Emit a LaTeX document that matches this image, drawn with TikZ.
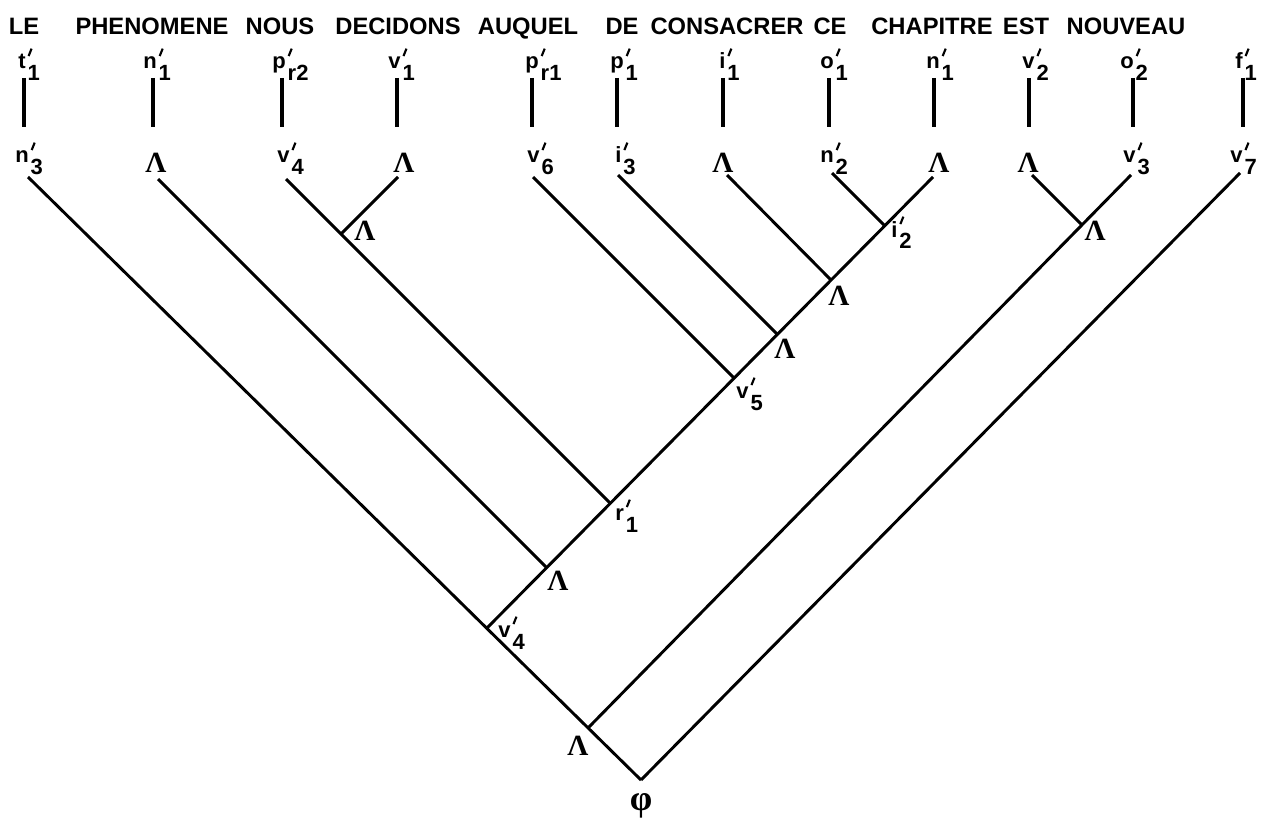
\documentclass[tikz,border=0pt]{standalone}
\usepackage{graphicx}
\usepackage{fontspec}
\newfontfamily\wsf{Liberation Sans}
\newfontfamily\serf{Liberation Serif}
\newcommand\wordfont{\wsf\bfseries\fontsize{17.8pt}{18pt}\selectfont}
\newcommand\labfont{\wsf\bfseries\fontsize{16.5pt}{16.5pt}\selectfont}
\newcommand\lamfont{\serf\bfseries\fontsize{22pt}{22pt}\selectfont}
\newcommand\phifont{\serf\bfseries\fontsize{27pt}{27pt}\selectfont}
\newcommand\prm{\rlap{\kern1.5pt\raisebox{10pt}{\rotatebox{-22}{\rule{1.6pt}{6pt}}}}}
\newcommand\lab[2]{{\labfont #1\prm\kern1.5pt\raisebox{-9pt}{#2}}}
\begin{document}
\begin{tikzpicture}[x=0.75pt,y=-0.75pt,
  word/.style={anchor=base,inner sep=0pt,font=\wordfont},
  lbl/.style={anchor=base west,inner sep=0pt},
  lam/.style={anchor=base,inner sep=0pt,font=\lamfont},
  branch/.style={line width=2.2pt},
  stem/.style={line width=2.4pt}]
\fill[white] (0,0) rectangle (1274,820);
\useasboundingbox (0,0) rectangle (1274,820);

% words
\node[word] (w1) at (24,35) {LE};
\node[word] (w2) at (152,35) {PHENOMENE};
\node[word] (w3) at (280,35) {NOUS};
\node[word] (w4) at (398,35) {DECIDONS};
\node[word] (w5) at (528,35) {AUQUEL};
\node[word] (w6) at (622,35) {DE};
\node[word] (w7) at (727,35) {CONSACRER};
\node[word] (w8) at (830,35) {CE};
\node[word] (w9) at (932,35) {CHAPITRE};
\node[word] (w10) at (1026,35) {EST};
\node[word] (w11) at (1126,35) {NOUVEAU};

% top labels
\node[lbl] (t1) at (18,69) {\lab{t}{1}};
\node[lbl] (t2) at (143,69) {\lab{n}{1}};
\node[lbl] (t3) at (272,69) {\lab{p}{r2}};
\node[lbl] (t4) at (388,69) {\lab{v}{1}};
\node[lbl] (t5) at (525,69) {\lab{p}{r1}};
\node[lbl] (t6) at (610,69) {\lab{p}{1}};
\node[lbl] (t7) at (719,69) {\lab{i}{1}};
\node[lbl] (t8) at (820,69) {\lab{o}{1}};
\node[lbl] (t9) at (926,69) {\lab{n}{1}};
\node[lbl] (t10) at (1022,69) {\lab{v}{2}};
\node[lbl] (t11) at (1120,69) {\lab{o}{2}};
\node[lbl] (t12) at (1235,69) {\lab{f}{1}};

% vertical stems
\foreach \i/\x in {1/24,2/153,3/282,4/397,5/532,6/617,7/723,8/829,9/934,10/1029,11/1133,12/1243}{
  \coordinate (va\i) at (\x,78);
  \coordinate (vb\i) at (\x,127);
  \draw[stem] (va\i) -- (vb\i);
}

% bottom labels
\node[lbl] (b1) at (15,163) {\lab{n}{3}};
\node[lam] (b2) at (156,173) {Λ};
\node[lbl] (b3) at (277,163) {\lab{v}{4}};
\node[lam] (b4) at (404,173) {Λ};
\node[lbl] (b5) at (527,163) {\lab{v}{6}};
\node[lbl] (b6) at (615,163) {\lab{i}{3}};
\node[lam] (b7) at (723,173) {Λ};
\node[lbl] (b8) at (820,163) {\lab{n}{2}};
\node[lam] (b9) at (939,173) {Λ};
\node[lam] (b10) at (1028,173) {Λ};
\node[lbl] (b11) at (1123,163) {\lab{v}{3}};
\node[lbl] (b12) at (1230,163) {\lab{v}{7}};

% branch start points
\coordinate (s1) at (28,177);
\coordinate (s2) at (158,179);
\coordinate (s3) at (286,179);
\coordinate (s4) at (398,177);
\coordinate (s5) at (533,177);
\coordinate (s6) at (618,175);
\coordinate (s7) at (727,175);
\coordinate (s8) at (832,173);
\coordinate (s9) at (933,177);
\coordinate (s10) at (1032,175);
\coordinate (s11) at (1131,175);
\coordinate (s12) at (1240,173);

% junctions
\coordinate (v1j) at (341,234);
\coordinate (v2j) at (1082,225);
\coordinate (i2j) at (885,226);
\coordinate (L3j) at (831,280);
\coordinate (L4j) at (777,334);
\coordinate (v5j) at (734,378);
\coordinate (r1j) at (610,503);
\coordinate (L2j) at (547,568);
\coordinate (v4j) at (487,628);
\coordinate (BLj) at (588,728);
\coordinate (root) at (641,780);

% branches
\draw[branch] (s1) -- (root);
\draw[branch] (s12) -- (root);
\draw[branch] (s11) -- (BLj);
\draw[branch] (s10) -- (v2j);
\draw[branch] (s9) -- (v4j);
\draw[branch] (s2) -- (L2j);
\draw[branch] (s3) -- (r1j);
\draw[branch] (s4) -- (v1j);
\draw[branch] (s5) -- (v5j);
\draw[branch] (s6) -- (L4j);
\draw[branch] (s7) -- (L3j);
\draw[branch] (s8) -- (i2j);

% junction labels
\node[lam] (n1) at (365,240) {Λ};
\node[lam] (n2) at (1095,240) {Λ};
\node[lam] (n3) at (839,305) {Λ};
\node[lam] (n4) at (785,358) {Λ};
\node[lam] (n5) at (558,590) {Λ};
\node[lam] (n6) at (578,755) {Λ};
\node[lbl] (n7) at (891,237) {\lab{i}{2}};
\node[lbl] (n8) at (736,398) {\lab{v}{5}};
\node[lbl] (n9) at (615,520) {\lab{r}{1}};
\node[lbl] (n10) at (498,637) {\lab{v}{4}};
\node[inner sep=0pt,font=\phifont] (phi) at (641,806) {φ};
\end{tikzpicture}
\end{document}
